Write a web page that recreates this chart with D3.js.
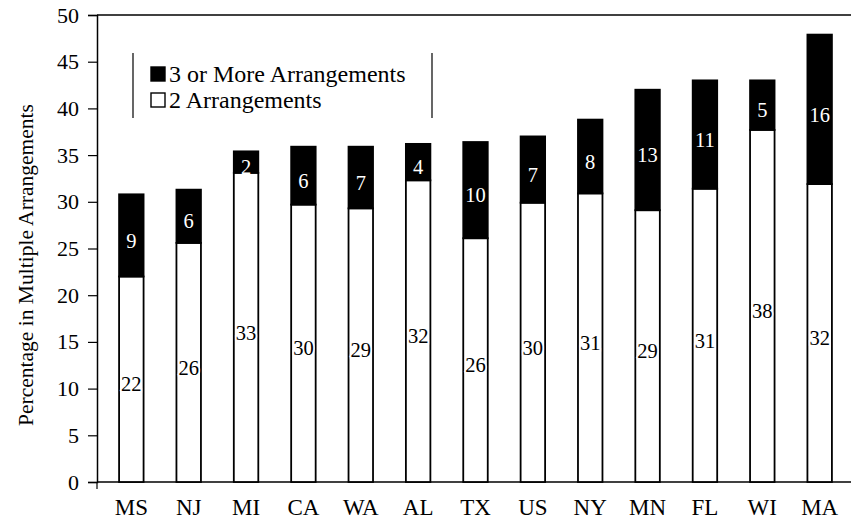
<!DOCTYPE html>
<html>
<head>
<meta charset="utf-8">
<script src="https://cdn.jsdelivr.net/npm/d3@7"></script>
<style>
  body { margin: 0; background: #fff; }
</style>
</head>
<body>
<div id="chart"></div>
<script>
const categories = ['MS', 'NJ', 'MI', 'CA', 'WA', 'AL', 'TX', 'US', 'NY', 'MN', 'FL', 'WI', 'MA'];
// bar heights
const twoArr = [22.0, 25.6, 33.1, 29.7, 29.3, 32.3, 26.1, 29.9, 30.9, 29.1, 31.4, 37.7, 31.9];
const threePlus = [8.8, 5.7, 2.3, 6.2, 6.6, 3.9, 10.3, 7.1, 7.9, 12.9, 11.6, 5.3, 16.0];
// printed labels
const twoLabels = [22, 26, 33, 30, 29, 32, 26, 30, 31, 29, 31, 38, 32];
const threeLabels = [9, 6, 2, 6, 7, 4, 10, 7, 8, 13, 11, 5, 16];
const yTicks = [0, 5, 10, 15, 20, 25, 30, 35, 40, 45, 50];
const legendLabels = ['3 or More Arrangements', '2 Arrangements'];

const width = 851;
const height = 520;
const plotLeft = 97, plotTop = 15, plotBottom = 482;
const serif = '"Liberation Serif", "Times New Roman", serif';

const svg = d3.select('#chart')
  .append('svg')
  .attr('width', width)
  .attr('height', height)
  .style('font-family', serif);

const x = d3.scaleBand().domain(categories).range([plotLeft, 854]).paddingInner(0.573).paddingOuter(0.385);
const y = d3.scaleLinear().domain([0, 50]).range([plotBottom, plotTop]);

const rows = categories.map((c, i) => ({
  cat: c, two: twoArr[i], three: threePlus[i], l2: twoLabels[i], l3: threeLabels[i]
}));

/**
 * frame lines
 */
svg.append('line')
  .attr('x1', plotLeft).attr('x2', width).attr('y1', plotTop).attr('y2', plotTop)
  .attr('stroke', '#000').attr('stroke-width', 1.5);
svg.append('line')
  .attr('x1', plotLeft).attr('x2', width).attr('y1', plotBottom).attr('y2', plotBottom)
  .attr('stroke', '#000').attr('stroke-width', 1.5);

// y axis
const yAxis = svg.append('g')
  .attr('transform', `translate(${plotLeft},0)`)
  .call(d3.axisLeft(y).tickValues(yTicks).tickSize(9).tickPadding(9));
yAxis.style('font-family', serif).attr('font-size', 22);
yAxis.select('.domain').attr('stroke-width', 1.5);
yAxis.selectAll('.tick line').attr('stroke-width', 1.2);
yAxis.selectAll('text').attr('fill', '#000');
svg.append('line')
  .attr('x1', plotLeft).attr('x2', plotLeft).attr('y1', plotBottom).attr('y2', plotBottom + 7)
  .attr('stroke', '#000').attr('stroke-width', 1.2);

// bars
const bars = svg.append('g');
bars.selectAll('rect.two')
  .data(rows)
  .enter()
  .append('rect')
  .attr('class', 'two')
  .attr('x', d => x(d.cat))
  .attr('y', d => y(d.two))
  .attr('width', x.bandwidth())
  .attr('height', d => y(0) - y(d.two))
  .attr('fill', '#fff')
  .attr('stroke', '#000')
  .attr('stroke-width', 1.8);

bars.selectAll('rect.three')
  .data(rows)
  .enter()
  .append('rect')
  .attr('class', 'three')
  .attr('x', d => x(d.cat))
  .attr('y', d => y(d.two + d.three))
  .attr('width', x.bandwidth())
  .attr('height', d => y(d.two) - y(d.two + d.three))
  .attr('fill', '#000')
  .attr('stroke', '#000')
  .attr('stroke-width', 1.8);

// value labels
bars.selectAll('text.l2')
  .data(rows)
  .enter()
  .append('text')
  .attr('class', 'l2')
  .attr('x', d => x(d.cat) + x.bandwidth() / 2)
  .attr('y', d => y(d.two / 2) + 5)
  .attr('dy', '0.35em')
  .attr('text-anchor', 'middle')
  .attr('font-size', 20.5)
  .attr('fill', '#000')
  .attr('stroke', '#fff')
  .attr('stroke-width', 3)
  .attr('paint-order', 'stroke')
  .text(d => d.l2);

bars.selectAll('text.l3')
  .data(rows)
  .enter()
  .append('text')
  .attr('class', 'l3')
  .attr('x', d => x(d.cat) + x.bandwidth() / 2)
  .attr('y', d => y(d.two + d.three / 2) + 5)
  .attr('dy', '0.35em')
  .attr('text-anchor', 'middle')
  .attr('font-size', 20.5)
  .attr('fill', '#fff')
  .text(d => d.l3);

// x category labels
svg.append('g')
  .selectAll('text')
  .data(categories)
  .enter()
  .append('text')
  .attr('x', d => x(d) + x.bandwidth() / 2)
  .attr('y', 515)
  .attr('text-anchor', 'middle')
  .attr('font-size', 23)
  .text(d => d);

// y title
svg.append('text')
  .attr('transform', 'translate(33,265) rotate(-90)')
  .attr('text-anchor', 'middle')
  .attr('font-size', 21.5)
  .text('Percentage in Multiple Arrangements');

// legend
const legend = svg.append('g');
legend.selectAll('line')
  .data([133, 432])
  .enter()
  .append('line')
  .attr('x1', d => d).attr('x2', d => d)
  .attr('y1', 53).attr('y2', 118)
  .attr('stroke', '#000').attr('stroke-width', 1.2);
const items = legend.selectAll('g.item')
  .data(legendLabels)
  .enter()
  .append('g')
  .attr('class', 'item')
  .attr('transform', (d, i) => `translate(151,${67 + i * 26})`);
items.append('rect')
  .attr('width', 14).attr('height', 14)
  .attr('fill', (d, i) => i === 0 ? '#000' : '#fff')
  .attr('stroke', '#000').attr('stroke-width', 1.4);
items.append('text')
  .attr('x', 18)
  .attr('y', 15)
  .attr('font-size', 24)
  .text(d => d);
</script>
</body>
</html>
